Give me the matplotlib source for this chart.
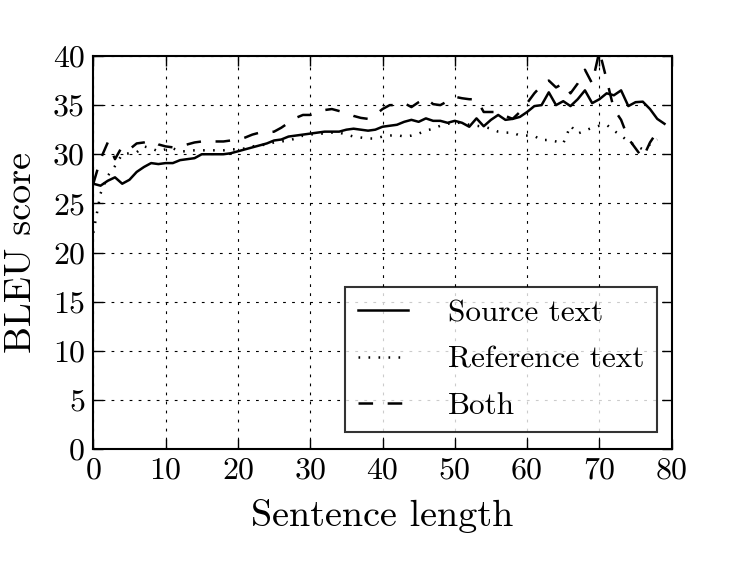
import numpy as np
import matplotlib
matplotlib.use("Agg")
import matplotlib.pyplot as plt

# BLEU score per sentence length
length_src = list(range(0, 80))
bleu_src = [27.0, 26.8, 27.3, 27.65, 27.0, 27.4, 28.2, 28.7, 29.1, 29.0,
            29.1, 29.1, 29.4, 29.5, 29.6, 30.0, 30.0, 30.0, 30.0, 30.1,
            30.3, 30.5, 30.7, 30.9, 31.1, 31.4, 31.5, 31.8, 31.9, 32.0,
            32.1, 32.2, 32.3, 32.3, 32.3, 32.5, 32.6, 32.5, 32.4, 32.5,
            32.8, 32.9, 33.0, 33.3, 33.5, 33.3, 33.65, 33.4, 33.4, 33.2,
            33.4, 33.2, 32.8, 33.65, 32.85, 33.5, 34.0, 33.5, 33.6, 33.8,
            34.3, 34.9, 35.0, 36.3, 35.0, 35.4, 34.9, 35.6, 36.5, 35.2,
            35.6, 36.2, 36.0, 36.5, 34.9, 35.3, 35.35, 34.6, 33.6, 33.1]

length_ref = list(range(0, 79))
bleu_ref = [22.0, 26.0, 27.8, 28.8, 30.0, 30.1, 30.2, 30.8, 30.6, 30.3,
            30.5, 30.6, 30.3, 30.3, 30.4, 30.4, 30.4, 30.4, 30.4, 30.5,
            30.5, 30.6, 30.8, 30.9, 31.0, 31.2, 31.3, 31.4, 31.6, 31.9,
            32.0, 32.1, 32.1, 32.2, 32.2, 32.0, 31.8, 31.7, 31.6, 31.6,
            31.8, 31.9, 31.95, 31.8, 31.9, 32.1, 32.4, 32.6, 32.9, 33.1,
            33.2, 33.2, 33.0, 32.9, 32.8, 32.6, 32.3, 32.2, 32.2, 31.9,
            31.9, 31.85, 31.45, 31.45, 31.3, 31.1, 32.9, 32.1, 32.4, 32.7,
            32.9, 33.0, 32.4, 31.9, 31.3, 30.9, 30.5, 31.0, 31.5]

length_both = list(range(0, 79))
bleu_both = [27.0, 29.5, 31.2, 29.5, 30.8, 30.5, 31.1, 31.2, 31.4, 31.0,
             30.8, 30.7, 30.8, 31.0, 31.2, 31.3, 31.3, 31.3, 31.3, 31.4,
             31.45, 31.7, 32.0, 32.2, 32.2, 32.3, 32.7, 33.2, 33.7, 34.0,
             34.0, 34.2, 34.5, 34.6, 34.4, 34.2, 33.9, 33.7, 33.6, 34.0,
             34.6, 35.0, 35.0, 35.2, 34.8, 35.3, 35.7, 35.1, 35.0, 35.4,
             35.85, 35.7, 35.6, 35.6, 34.3, 34.3, 34.3, 33.9, 33.6, 34.3,
             35.2, 36.2, 37.0, 37.5, 36.8, 37.2, 36.2, 37.2, 38.6, 37.2,
             40.5, 37.6, 34.6, 33.5, 31.6, 30.6, 29.6, 31.2, 32.3]

plt.rcParams['font.family'] = 'serif'
plt.rcParams['font.serif'] = ['cmr10']
plt.rcParams['mathtext.fontset'] = 'cm'
plt.rcParams['axes.unicode_minus'] = False
plt.rcParams['lines.scale_dashes'] = False

fig = plt.figure(figsize=(7.47, 5.61), dpi=100)
ax = fig.add_axes([0.1249, 0.1996, 0.7743, 0.7006])

ax.plot(length_src, bleu_src, color='k', lw=1.8, label='Source text')
ax.plot(length_ref, bleu_ref, color='k', lw=1.8, linestyle=(0, (1.2, 6.0)),
        label='Reference text')
ax.plot(length_both, bleu_both, color='k', lw=1.8, linestyle=(0, (10.5, 10.5)),
        label='Both')

ax.set_xlim(0, 80)
ax.set_ylim(0, 40)
ax.set_xticks(np.arange(0, 81, 10))
ax.set_yticks(np.arange(0, 41, 5))
ax.grid(True, color='k', linestyle=(0, (2, 4.5)), lw=0.8)

ax.tick_params(direction='in', length=7, width=1, top=True, right=True,
               labelsize=23, pad=6)
for sp in ax.spines.values():
    sp.set_linewidth(1.5)

ax.set_xlabel('Sentence length', fontsize=27.5, labelpad=10)
ax.set_ylabel('BLEU score', fontsize=27.5, labelpad=11)

leg = ax.legend(loc='lower right', bbox_to_anchor=(0.9746, 0.0433),
                borderaxespad=0, fontsize=22.5, fancybox=False,
                handlelength=1.6, handletextpad=1.3, labelspacing=0.58)
leg.get_frame().set_edgecolor('k')
leg.get_frame().set_linewidth(1.5)

fig.savefig('out.png', dpi=100)
